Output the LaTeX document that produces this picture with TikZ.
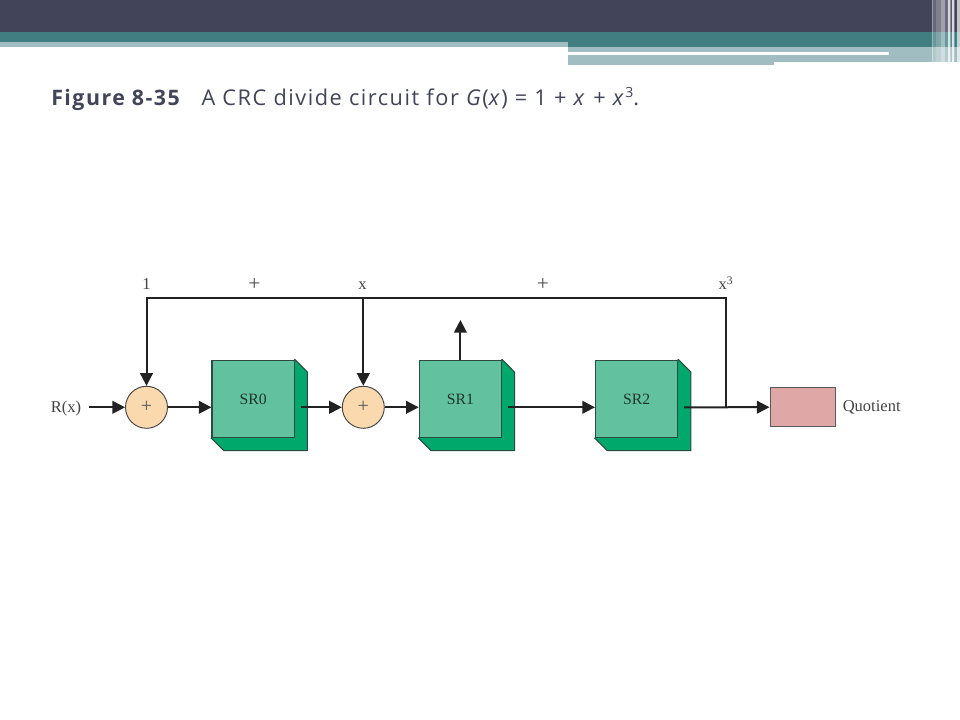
\documentclass[tikz,border=0pt]{standalone}
\usepackage{fontspec}
\setmainfont{Liberation Serif}
\newfontfamily\titlefont[LetterSpace=7]{Open Sans}
\usetikzlibrary{arrows.meta,calc}
\definecolor{hdark}{HTML}{42445A}
\definecolor{hteal}{HTML}{417E82}
\definecolor{hlight}{HTML}{A0BDC1}
\definecolor{ttext}{HTML}{42445A}
\definecolor{frontg}{HTML}{62C29F}
\definecolor{backg}{HTML}{00A86B}
\definecolor{edgeg}{HTML}{2C4A42}
\definecolor{circ}{HTML}{FBD9AE}
\definecolor{pinkb}{HTML}{E0A7A7}
\definecolor{ink}{HTML}{222222}
\tikzset{
  x=0.75pt,y=-0.75pt,
  sumnode/.style={circle,draw=ink!85!white,line width=0.7pt,fill=circ,minimum size=31.5pt,inner sep=0pt,font=\fontsize{15}{15}\selectfont,text=ink!75!white},
  regbox/.style={rectangle,draw=edgeg,line width=0.8pt,fill=frontg,minimum width=61.8pt,minimum height=58.2pt,inner sep=0pt,font=\fontsize{11.8}{12}\selectfont,text=edgeg!70!black},
  regback/.style={draw=edgeg,line width=0.8pt,fill=backg},
  outbox/.style={rectangle,draw=ink!75!white,line width=0.7pt,fill=pinkb,minimum width=48.8pt,minimum height=29.2pt,inner sep=0pt},
  lab/.style={inner sep=0pt,anchor=base,font=\fontsize{12.4}{13}\selectfont,text=ink!85!white},
  pluslab/.style={inner sep=0pt,font=\fontsize{16}{16}\selectfont,text=ink!80!white},
  wire/.style={draw=ink,line width=1.5pt},
  arrowwire/.style={wire,-{Triangle[length=9.5pt,width=9.5pt]}},
}
\newcommand{\regshape}[1]{%
  \path[regback] (#1.north east) -- ++(12.4,12.5) |- ($(#1.south west)+(12.4,12.4)$) -- (#1.south west) -- cycle;
}
\begin{document}
\begin{tikzpicture}
\useasboundingbox (0,0) rectangle (960,720);
\fill[white] (0,0) rectangle (960,720);
% header
\fill[hdark] (0,0) rectangle (960,32);
\fill[hteal] (0,32) rectangle (960,42);
\fill[hlight] (0,42) rectangle (568,47);
\fill[hteal] (568,42) rectangle (960,47);
\fill[hlight] (568,47) rectangle (960,62);
\fill[hlight] (568,62) rectangle (774,65);
\fill[white] (568,52) rectangle (889,55);
% right fade stripes
\foreach \a/\b/\o in {932/933/.45,933/936/.2,936/941/.32,941/945/.5,945/948/.22,948/950/.8,950/951/.35,951/952/.12,952/954/.8,954/955/.25,957/960/.68}
  \fill[white,opacity=\o] (\a,0) rectangle (\b,65);
% title
\node[anchor=base west,inner sep=0pt,text=ttext,font=\titlefont\fontsize{16}{18}\selectfont] (title) at (51,105.5)
  {\textbf{Figure 8-35}\hspace{0.95em}{\fontsize{16.3}{18}\selectfont A CRC divide circuit for \textit{G}(\textit{x}) = 1 + \textit{x} + \textit{x}\raisebox{0.35em}{\fontsize{10.5}{11}\selectfont 3}.}};
% boxes
\node[regbox,opacity=0] (sr0g) at (253.2,398.9) {};
\node[regbox,opacity=0] (sr1g) at (460.4,398.9) {};
\node[regbox,opacity=0] (sr2g) at (636.7,398.9) {};
\regshape{sr0g}\regshape{sr1g}\regshape{sr2g}
\node[regbox] (sr0) at (253.2,398.9) {SR0};
\node[regbox] (sr1) at (460.4,398.9) {SR1};
\node[regbox] (sr2) at (636.7,398.9) {SR2};
\node[sumnode] (s0) at (146.5,407.3) {+};
\node[sumnode] (s1) at (363.3,407.3) {+};
\node[outbox] (q) at (802.5,407.2) {};
% labels
\node[lab] (rx) at (66,412) {R(x)};
\node[lab,anchor=base west] (quot) at (842.5,411) {Quotient};
\node[lab] (l1) at (146.5,290) {1};
\node[pluslab] (lp1) at (254.5,284.5) {+};
\node[lab] (lx) at (362.5,290) {x};
\node[pluslab] (lp2) at (543,284.5) {+};
\node[lab] (lx3) at (726,290) {x\textsuperscript{3}};
% free ends
\coordinate (rin) at (89,407.3);
\coordinate (top) at (726,297.7);
\coordinate (tap) at (726,407.3);
\coordinate (upend) at (460.4,320);
\coordinate (out0) at (301,407.3);
\coordinate (out1) at (508,407.3);
\coordinate (out2) at (684,407.3);
% connectors
\draw[arrowwire] (rin) -- (s0.west);
\draw[arrowwire] (s0.east) -- (s0.east -| sr0.west);
\draw[arrowwire] (out0) -- (s1.west);
\draw[arrowwire] (s1.east) -- (s1.east -| sr1.west);
\draw[arrowwire] (out1) -- (out1 -| sr2.west);
\draw[arrowwire] (out2) -- (q.west);
\draw[arrowwire] (sr1.north) -- (upend);
\draw[wire,line join=miter] (tap) -- (top) -- (top -| s0.north) -- ([yshift=-1pt]top -| s0.north);
\draw[arrowwire] (top -| s0.north) -- (s0.north);
\draw[arrowwire] (top -| s1.north) -- (s1.north);
\end{tikzpicture}
\end{document}
